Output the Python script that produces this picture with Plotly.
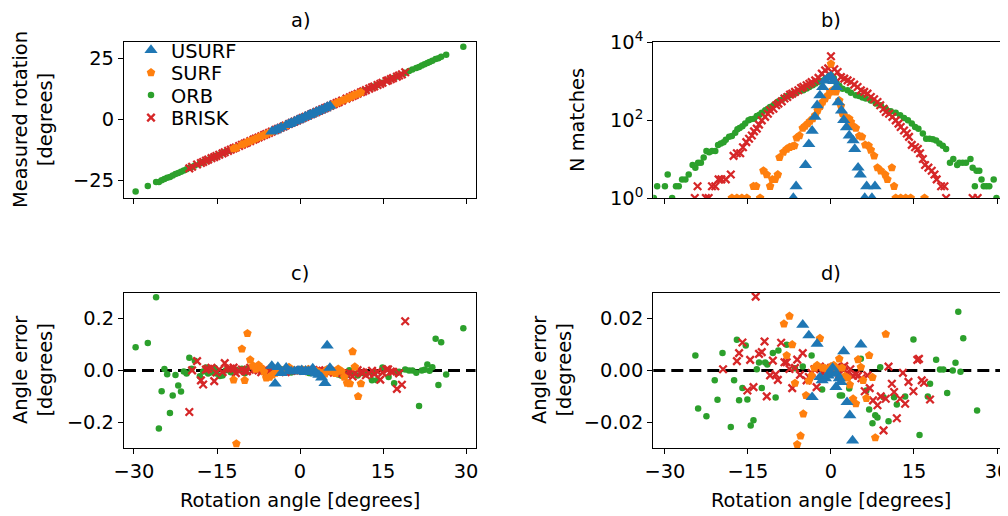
import plotly.graph_objects as go

M = "\u2212"
FONT = "DejaVu Sans"
FS = 19.4

# ---------------- per-image-pair rotation estimates (panels a, c, d) ----------------
usurf_angle = [-5.1, -4.5, -4.0, -3.4, -2.5, -2.0, -1.6, -1.0, -0.5, -0.2, 0.3, 0.9, 1.0, 1.5, 1.8, 2.3,
               2.9, 3.4, 3.9, 4.5, 4.9, 5.4]
usurf_err = [0.0176, -0.051, 0.0135, -0.0103, 0.0103, -0.0026, -0.0038, -0.0030, -0.0020, -0.0006, 0.0010,
             -0.0064, -0.0013, -0.0030, -0.0045, 0.0074, -0.0122, -0.0173, -0.0270, -0.049, 0.096, 0.0100]

surf_angle = [-12.0, -11.5, -10.5, -10.0, -9.5, -9.0, -8.5, -8.0, -7.5, -7.0, -6.5, -6.1, -5.5, -5.0, -4.5,
              -4.0, -3.5, -3.0, -2.5, -2.0, -1.5, -1.1, -0.5, 0.0, 0.5, 1.0, 1.5, 2.0, 2.5, 3.0, 3.4, 4.0,
              4.5, 4.9, 5.4, 5.8, 6.4, 6.9, 7.5, 8.0, 8.5, 9.0, 9.5, 9.9, 10.5, 11.0]
surf_err = [-0.036, -0.282, 0.083, -0.038, 0.143, 0.041, 0.018, 0.0058, 0.021, 0.0100, -0.0049, -0.0285,
            -0.0252, -0.0167, -0.0096, -0.0040, -0.0020, 0.0010, 0.0020, 0.0124, 0.0010, 0.0009, 0.0000,
            0.0015, 0.0020, 0.0010, 0.0045, 0.0010, -0.0022, -0.0028, -0.0055, -0.0109, -0.0128, 0.0042,
            0.0013, -0.0038, -0.0107, 0.0058, -0.0026, -0.0259, -0.049, -0.051, 0.073, 0.0140, -0.100, -0.051]

orb_angle = [-29.7, -27.5, -26.0, -25.5, -25.0, -24.5, -24.0, -23.5, -23.0, -22.5, -22.0, -21.5, -21.0,
             -20.5, -20.0, -19.6, -19.0, -18.1, -17.5, -17.0, -16.6, -16.0, -15.4, -15.1, -14.5, -14.0,
             -13.4, -13.0, -12.5, -11.9, -11.5, -10.5, -10.0, -9.5, -8.0, -6.5, -5.1, -3.5, -1.6, 1.6, 2.0,
             3.3, 5.4, 6.4, 6.9, 7.5, 8.0, 8.4, 8.9, 9.5, 10.4, 11.4, 11.9, 13.0, 13.4, 13.9, 14.9, 16.0,
             17.0, 17.5, 17.9, 19.0, 19.7, 20.3, 21.0, 21.5, 22.0, 22.5, 23.0, 23.4, 23.9, 24.5, 25.0, 25.5,
             26.4, 29.5]
orb_err = [0.090, 0.106, 0.282, -0.224, -0.080, 0.0058, -0.0147, -0.164, -0.096, -0.0176, -0.058, -0.081,
           -0.0038, -0.0113, 0.049, 0.0067, 0.038, -0.0218, -0.0038, 0.0119, -0.0115, -0.0067, 0.0096,
           -0.0112, -0.0212, -0.0192, 0.0005, 0.0031, -0.0067, 0.0031, 0.0023, 0.0067, -0.0104, 0.0077,
           0.0099, 0.0009, 0.0015, 0.0058, -0.0073, -0.0096, -0.0096, -0.0069, 0.0045, -0.0077, -0.0150,
           -0.0203, -0.0173, -0.0181, 0.0013, -0.0103, -0.0196, -0.0103, -0.0131, -0.038, -0.0100, -0.038,
           0.0120, -0.0249, -0.049, -0.0100, -0.0051, 0.0041, 0.0004, 0.0004, -0.0087, -0.137, 0.0000,
           0.0030, 0.0227, -0.0005, 0.0124, 0.122, -0.056, 0.109, -0.0154, 0.163]

brisk_angle = [-20.0, -19.5, -18.6, -17.9, -17.5, -17.0, -16.6, -16.0, -15.5, -15.1, -14.6, -14.0, -13.6,
               -13.0, -12.5, -12.0, -11.6, -11.0, -10.5, -10.0, -9.6, -9.0, -8.4, -8.0, -7.5, -7.0, -6.5,
               -6.1, -5.6, -5.1, -4.4, -4.0, -3.5, -3.0, -2.6, -2.0, -1.5, -1.0, -0.5, 0.0, 0.5, 1.0, 1.5,
               2.0, 2.4, 3.0, 3.5, 4.0, 4.5, 4.9, 5.5, 6.1, 6.6, 7.0, 7.6, 8.4, 9.0, 9.5, 9.9, 10.4, 11.0,
               11.4, 11.9, 12.5, 13.0, 13.4, 14.0, 14.5, 14.9, 15.6, 15.9, 16.4, 16.8, 17.5, 17.9, 18.4, 19.0]
brisk_err = [-0.160, 0.0005, 0.036, -0.038, -0.054, 0.0036, 0.0067, 0.0108, -0.041, -0.0077, 0.0041,
             -0.0064, 0.0285, 0.0064, 0.0071, 0.0112, -0.0100, -0.0019, 0.0038, -0.0015, -0.0036, 0.0107,
             0.0032, 0.0032, 0.0006, -0.0068, 0.0010, 0.0042, -0.0017, 0.0067, -0.0038, -0.0025, -0.0010,
             0.0005, -0.0064, 0.0015, -0.0010, 0.0008, -0.0005, 0.0010, -0.0008, 0.0012, -0.0015, 0.0010,
             0.0017, -0.0010, 0.0005, -0.0020, -0.0015, -0.0020, -0.0030, -0.0080, -0.0019, -0.0068,
             -0.0115, -0.0134, -0.0100, -0.0231, -0.0109, 0.0015, -0.0051, -0.0083, -0.0184, -0.0109,
             -0.0009, -0.0128, -0.0044, -0.035, -0.0080, 0.0041, 0.0045, -0.0038, -0.0047, -0.071, -0.0112,
             -0.055, 0.190]

# ---------------- match histograms (panel b) ----------------
usurf_hist_angle = [-6.8, -6.3, -4.6, -4.0, -3.4, -2.9, -2.5, -2.0, -1.5, -1.1, -0.5, 0.0, 0.5, 1.0, 1.3,
                    1.9, 2.3, 2.8, 3.3, 4.0, 4.3, 4.9, 5.3, 6.1, 6.45, 7.4, 7.95]
usurf_hist_n = [1, 2, 7, 24, 53, 120, 238, 425, 700, 1030, 1200, 1300, 1000, 700, 285, 174, 100, 65, 40,
                30, 18, 6, 4, 1, 2, 1, 2]

surf_hist_angle = [-17.9, -17.0, -16.1, -15.2, -14.0, -13.5, -12.8, -12.2, -11.6, -11.0, -10.6, -10.1,
                   -9.6, -9.3, -8.6, -8.0, -7.5, -7.0, -6.6, -6.2, -5.7, -5.1, -4.7, -4.2, -3.8, -3.3,
                   -2.85, -2.4, -1.95, -1.5, -1.05, -0.55, -0.15, 0.0, 0.3, 0.9, 1.5, 1.8, 2.1, 2.7, 3.3,
                   3.6, 4.0, 4.5, 5.1, 5.6, 6.2, 6.8, 7.2, 7.8, 8.4, 9.0, 9.8, 10.2, 11.0, 11.4, 11.7,
                   12.6, 13.5, 14.4, 16.9]
surf_hist_n = [1, 1, 1, 1, 2, 2, 1, 5, 4, 2, 3, 3, 4, 11, 15, 18, 20, 21, 22, 35, 40, 62, 70, 81, 93, 108,
               132, 177, 225, 290, 355, 428, 525, 2760, 577, 525, 318, 230, 145, 120, 108, 89, 70, 62, 39,
               37, 23, 22, 17, 12, 6, 5, 4, 3, 6, 2, 1, 1, 1, 1, 1]

orb_hist_angle = [-32.0, -31.4, -30.0, -29.5, -28.7, -28.0, -27.5, -26.9, -26.3, -25.7, -25.0, -24.5,
                  -24.0, -23.5, -23.0, -22.5, -22.0, -21.5, -20.9, -20.4, -19.9, -19.4, -19.0, -18.4,
                  -17.9, -17.3, -16.9, -16.5, -16.0, -15.5, -14.9, -14.5, -13.9, -13.4, -12.9, -12.5,
                  -11.9, -11.4, -11.0, -10.4, -9.9, -9.5, -8.9, -8.4, -8.0, -7.4, -7.0, -6.3, -5.9, -5.4,
                  -5.0, -4.4, -3.9, -3.3, -2.8, -2.2, -1.6, -1.0, -0.4, 0.0, 0.5, 1.0, 1.5, 2.1, 3.0, 3.6,
                  4.5, 5.1, 5.7, 6.3, 7.2, 8.1, 9.0, 9.9, 10.8, 11.7, 12.5, 13.2, 13.9, 14.6, 15.2, 15.8,
                  16.6, 17.2, 17.8, 18.4, 19.0, 19.6, 20.2, 20.8, 21.5, 22.1, 22.8, 23.2, 23.8, 24.4, 25.2,
                  25.6, 26.0, 26.3, 26.8, 27.2, 27.6, 28.1, 28.6, 29.4, 29.9, 31.2]
orb_hist_n = [1, 2, 2, 4, 1, 2, 2, 3, 3, 4, 7, 6, 8, 8, 11, 16, 15, 16, 16, 23, 25, 27, 31, 37, 39, 47,
              58, 62, 69, 81, 98, 104, 108, 126, 137, 154, 177, 195, 215, 238, 263, 300, 332, 367, 406,
              428, 473, 503, 543, 577, 577, 638, 705, 779, 861, 952, 1000, 1150, 1300, 1400, 1200, 900,
              750, 630, 577, 500, 428, 412, 380, 355, 318, 263, 238, 195, 167, 154, 132, 113, 98, 81, 66,
              60, 45, 33, 33, 32, 30, 25, 22, 18, 8, 10, 7, 8, 8, 8, 10, 6, 2, 5, 5, 3, 2, 2, 2, 3, 1, 1]

brisk_hist_angle = [-24.6, -24.1, -22.6, -22.1, -21.5, -20.9, -20.3, -19.8, -19.0, -18.1, -17.6, -17.0,
                    -16.4, -15.9, -15.3, -14.8, -14.3, -13.9, -13.4, -13.0, -12.5, -11.9, -11.4, -11.0,
                    -10.4, -9.9, -9.5, -8.9, -8.4, -7.9, -7.4, -7.0, -6.5, -5.9, -5.4, -5.0, -4.4, -3.9,
                    -3.5, -2.85, -2.25, -1.65, -1.05, -0.5, 0.0, 0.6, 1.2, 1.8, 2.4, 3.0, 3.6, 4.2, 4.8,
                    5.4, 6.0, 6.6, 7.2, 7.8, 8.4, 8.9, 9.5, 9.9, 10.5, 11.1, 11.7, 12.2, 12.6, 13.2, 13.7,
                    14.1, 14.6, 15.2, 15.7, 16.1, 16.6, 17.0, 17.6, 18.2, 18.7, 19.1, 19.9, 20.5, 20.8,
                    25.6, 26.5]
brisk_hist_n = [1, 2, 1, 1, 2, 2, 3, 3, 3, 4, 12, 14, 14, 20, 27, 33, 40, 51, 60, 76, 98, 120, 145, 177,
                195, 238, 263, 300, 355, 388, 447, 473, 525, 577, 660, 705, 776, 851, 933, 1040, 1200,
                1550, 1870, 2100, 4300, 2000, 1700, 1260, 1150, 1040, 940, 810, 700, 575, 525, 473, 388,
                340, 290, 238, 195, 160, 145, 120, 98, 81, 66, 54, 45, 37, 23, 20, 18, 14, 10, 7, 6, 5,
                4, 3, 2, 2, 1, 1, 1]

series_names = ["USURF", "SURF", "ORB", "BRISK"]
x_tickvals = [-30, -15, 0, 15, 30]
x_ticktext = [M + "30", M + "15", "0", "15", "30"]

colors = {"USURF": "#1f77b4", "SURF": "#ff7f0e", "ORB": "#2ca02c", "BRISK": "#d62728"}
symbols = {"USURF": "triangle-up", "SURF": "pentagon", "ORB": "circle", "BRISK": "x-thin"}
sizes = {"USURF": 11.5, "SURF": 9, "ORB": 6.5, "BRISK": 7.5}
legend_ids = {"USURF": "legend", "SURF": "legend2", "ORB": "legend3", "BRISK": "legend4"}

est = {
    "USURF": (usurf_angle, usurf_err),
    "SURF": (surf_angle, surf_err),
    "ORB": (orb_angle, orb_err),
    "BRISK": (brisk_angle, brisk_err),
}
hist = {
    "USURF": (usurf_hist_angle, usurf_hist_n),
    "SURF": (surf_hist_angle, surf_hist_n),
    "ORB": (orb_hist_angle, orb_hist_n),
    "BRISK": (brisk_hist_angle, brisk_hist_n),
}


def marker(name):
    c = colors[name]
    if name == "BRISK":
        return dict(symbol="x-thin", size=sizes[name], color=c, line=dict(color=c, width=2.3))
    return dict(symbol=symbols[name], size=sizes[name], color=c, line=dict(width=0))


fig = go.Figure()
draw_order = ["ORB", "BRISK", "SURF", "USURF"]
for name in draw_order:
    ang, err = est[name]
    measured = [a + e for a, e in zip(ang, err)]
    fig.add_trace(go.Scatter(x=ang, y=measured, mode="markers", name=name, marker=marker(name),
                             xaxis="x", yaxis="y", showlegend=True, legend=legend_ids[name]))
    hx, hn = hist[name]
    fig.add_trace(go.Scatter(x=hx, y=hn, mode="markers", name=name, marker=marker(name),
                             xaxis="x2", yaxis="y2", showlegend=False))
    fig.add_trace(go.Scatter(x=ang, y=err, mode="markers", name=name, marker=marker(name),
                             xaxis="x3", yaxis="y3", showlegend=False))
    fig.add_trace(go.Scatter(x=ang, y=err, mode="markers", name=name, marker=marker(name),
                             xaxis="x4", yaxis="y4", showlegend=False))

# the page body adds an 8px offset, so the figure is drawn 8px smaller and all
# positions below are given in window pixels and shifted by that offset
OFF = 8
W, H = 1008 - OFF, 516 - OFF


def px(x):
    return (x - OFF) / W


def py(y):
    return 1 - (y - OFF) / H


xL = [px(124), px(475.5)]
xR = [px(653.3), px(1006.7)]
yT = [py(198), py(42)]
yB = [py(448.3), py(292.7)]

axis_common = dict(showline=True, linecolor="black", linewidth=1.3, mirror=True, ticks="outside",
                   ticklen=5, tickwidth=1.3, tickcolor="black", showgrid=False, zeroline=False,
                   automargin=False, ticklabeloverflow="allow",
                   tickfont=dict(family=FONT, size=FS, color="black"))

fig.update_layout(
    template="none",
    width=W, height=H, margin=dict(l=0, r=0, t=0, b=0, autoexpand=False),
    paper_bgcolor="white", plot_bgcolor="white",
    font=dict(family=FONT, size=FS, color="black"),
    xaxis=dict(domain=xL, anchor="y", range=[-31.8, 31.7], tickvals=x_tickvals, showticklabels=False,
               **axis_common),
    yaxis=dict(domain=yT, anchor="x", range=[-32.3, 31.6], tickvals=[-25, 0, 25],
               ticktext=[M + "25", "0", "25"], **axis_common),
    xaxis2=dict(domain=xR, anchor="y2", range=[-32.1, 31.75], tickvals=x_tickvals, showticklabels=False,
                **axis_common),
    yaxis2=dict(domain=yT, anchor="x2", type="log", range=[0, 4], tickvals=[1, 100, 10000],
                ticktext=["10<sup>0</sup>", "10<sup>2</sup>", "10<sup>4</sup>"], **axis_common),
    xaxis3=dict(domain=xL, anchor="y3", range=[-31.8, 31.7], tickvals=x_tickvals, ticktext=x_ticktext,
                **axis_common),
    yaxis3=dict(domain=yB, anchor="x3", range=[-0.3, 0.3], tickvals=[-0.2, 0, 0.2],
                ticktext=[M + "0.2", "0.0", "0.2"], **axis_common),
    xaxis4=dict(domain=xR, anchor="y4", range=[-32.1, 31.75], tickvals=x_tickvals, ticktext=x_ticktext,
                **axis_common),
    yaxis4=dict(domain=yB, anchor="x4", range=[-0.03, 0.03], tickvals=[-0.02, 0, 0.02],
                ticktext=[M + "0.02", "0.00", "0.02"], **axis_common),
    showlegend=True,
)

# one legend per entry so the rows can sit as close as in the reference
leg_rows = {"USURF": 50, "SURF": 72.5, "ORB": 95, "BRISK": 117.5}
for name, yc in leg_rows.items():
    fig.update_layout({legend_ids[name]: dict(x=px(131), xanchor="left", y=py(yc + 0.5), yanchor="middle",
                                              bgcolor="rgba(0,0,0,0)", borderwidth=0,
                                              font=dict(family=FONT, size=FS, color="black"))})

for xr, yr in [("x3 domain", "y3"), ("x4 domain", "y4")]:
    fig.add_shape(type="line", xref=xr, yref=yr, x0=0, x1=1, y0=0, y1=0, layer="below",
                  line=dict(color="black", width=3.2, dash="12px,6px"))


def ann(text, x, y, angle=0):
    fig.add_annotation(text=text, x=px(x), y=py(y), xref="paper", yref="paper", showarrow=False,
                       xanchor="center", yanchor="middle", textangle=angle,
                       font=dict(family=FONT, size=FS, color="black"))


ann("a)", 300, 21)
ann("b)", 831, 21)
ann("c)", 300, 273.5)
ann("d)", 831, 273.5)
ann("Measured rotation<br>[degrees]", 33, 120, -90)
ann("N matches", 577, 120, -90)
ann("Angle error<br>[degrees]", 33, 370, -90)
ann("Angle error<br>[degrees]", 552, 370, -90)
ann("Rotation angle [degrees]", 300, 500)
ann("Rotation angle [degrees]", 831, 500)

fig.write_html("out.html")
